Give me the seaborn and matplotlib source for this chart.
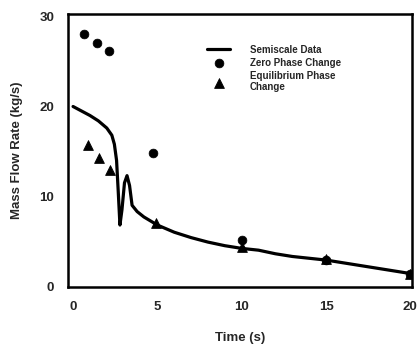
import matplotlib
matplotlib.use("Agg")
import matplotlib.pyplot as plt
import seaborn as sns
import pandas as pd

sns.set_theme(style="white")
plt.rcParams['font.family'] = ['Liberation Sans', 'DejaVu Sans']

# Semiscale data (line)
semi_t = [0.0, 0.5, 1.0, 1.5, 2.0, 2.3, 2.45, 2.58, 2.68, 2.78, 2.9, 3.05, 3.2, 3.35, 3.5,
          3.8, 4.2, 5.0, 6.0, 7.0, 8.0, 9.0, 10.0, 11.0, 12.0, 13.0, 14.0, 15.0,
          16.0, 17.0, 18.0, 19.0, 20.0]
semi_v = [20.0, 19.5, 19.0, 18.4, 17.6, 16.8, 15.8, 14.0, 10.5, 6.8, 8.5, 11.5, 12.3, 11.2, 9.0,
          8.3, 7.7, 6.8, 6.0, 5.4, 4.9, 4.5, 4.2, 4.0, 3.6, 3.3, 3.1, 2.9,
          2.6, 2.3, 2.0, 1.7, 1.4]

# Zero phase change (circles)
zero_t = [0.65, 1.4, 2.15, 4.75, 10.0, 15.0, 20.0]
zero_v = [28.1, 27.1, 26.2, 14.8, 5.1, 2.9, 1.3]

# Equilibrium phase change (triangles)
eq_t = [0.9, 1.55, 2.2, 4.9, 10.0, 15.0, 20.0]
eq_v = [15.7, 14.3, 12.9, 7.0, 4.3, 3.0, 1.3]

semi = pd.DataFrame({'t': semi_t, 'v': semi_v})
zero = pd.DataFrame({'t': zero_t, 'v': zero_v})
eq = pd.DataFrame({'t': eq_t, 'v': eq_v})

fig = plt.figure(figsize=(4.19, 3.55), dpi=100)
ax = fig.add_axes([68 / 419, (355 - 287) / 355, (412 - 68) / 419, (287 - 14) / 355])

sns.lineplot(data=semi, x='t', y='v', ax=ax, color='black', linewidth=2.3,
             label='Semiscale Data')
sns.scatterplot(data=zero, x='t', y='v', ax=ax, color='black', marker='o', s=40,
                edgecolor='black', label='Zero Phase Change')
sns.scatterplot(data=eq, x='t', y='v', ax=ax, color='black', marker='^', s=50,
                edgecolor='black', label='Equilibrium Phase\nChange')

ax.set_xlim(-0.3, 20.1)
ax.set_ylim(-0.1, 30.3)
ax.set_xticks([0, 5, 10, 15, 20])
ax.set_yticks([0, 10, 20, 30])
ax.tick_params(length=0, labelsize=9.5, pad=10)
for lab in ax.get_xticklabels() + ax.get_yticklabels():
    lab.set_fontweight('bold')
for sp in ax.spines.values():
    sp.set_linewidth(1.8)
    sp.set_color('black')

ax.set_xlabel('Time (s)', fontsize=9.5, fontweight='bold', labelpad=14)
ax.set_ylabel('Mass Flow Rate (kg/s)', fontsize=9.5, fontweight='bold', labelpad=12)

leg = ax.legend(loc='upper left', bbox_to_anchor=(0.39, 0.905), frameon=False,
                handlelength=2.4, handletextpad=2.0, labelspacing=0.3, borderpad=0,
                prop={'weight': 'bold', 'size': 7})

fig.savefig('out.png', dpi=100)
